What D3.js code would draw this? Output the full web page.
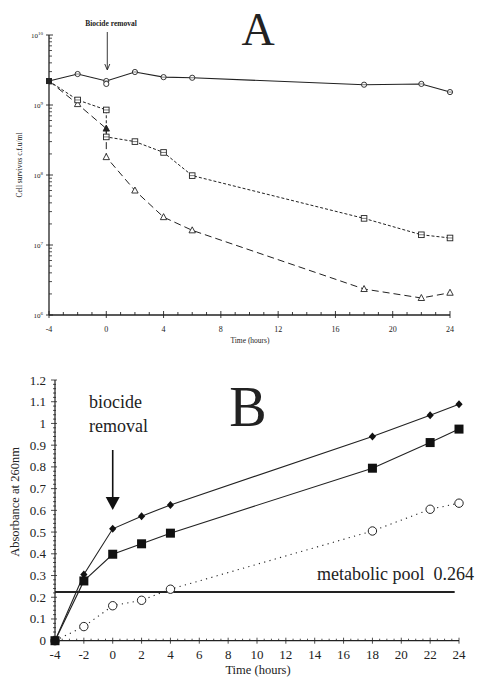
<!DOCTYPE html>
<html><head><meta charset="utf-8">
<script src="https://cdn.jsdelivr.net/npm/d3@7"></script>
<style>body{margin:0;background:#fff}svg{display:block}text{font-family:"Liberation Serif","DejaVu Serif",serif;fill:#222}</style>
</head><body>
<script>
// Panel A data (cell survival, c.f.u/ml)
const timeA = [-4, -2, 0, 2, 4, 6, 18, 22, 24];
const circleA = [2.2e9, 2.77e9, 2.2e9, 2.96e9, 2.5e9, 2.45e9, 1.95e9, 2.0e9, 1.53e9];
const squareTimeA = [-4, -2, 0, 0, 2, 4, 6, 18, 22, 24];
const squareA = [2.2e9, 1.18e9, 8.5e8, 3.5e8, 3.0e8, 2.1e8, 9.8e7, 2.4e7, 1.4e7, 1.26e7];
const triTimeA = [-4, -2, 0, 0, 2, 4, 6, 18, 22, 24];
const triA = [2.2e9, 1.03e9, 4.6e8, 1.8e8, 6.0e7, 2.5e7, 1.62e7, 2.35e6, 1.75e6, 2.08e6];
const yTicksA = [6, 7, 8, 9, 10];
const xTicksA = [-4, 0, 4, 8, 12, 16, 20, 24];

// Panel B data (absorbance at 260nm)
const timeB = [-4, -2, 0, 2, 4, 18, 22, 24];
const diamondB = [0, 0.305, 0.515, 0.573, 0.625, 0.94, 1.038, 1.088];
const squareB = [0, 0.275, 0.398, 0.446, 0.495, 0.794, 0.912, 0.974];
const circleB = [0, 0.065, 0.161, 0.186, 0.237, 0.505, 0.605, 0.633];
const poolLevel = 0.224;
const poolEnd = 23.7;
const yTicksB = [0, 0.1, 0.2, 0.3, 0.4, 0.5, 0.6, 0.7, 0.8, 0.9, 1, 1.1, 1.2];
const xTicksB = [-4, -2, 0, 2, 4, 6, 8, 10, 12, 14, 16, 18, 20, 22, 24];

const W = 478, H = 677;
const svg = d3.select("body").append("svg").attr("width", W).attr("height", H);

// ---------- Panel A ----------
const xA = d3.scaleLinear().domain([-4, 24]).range([49, 450]);
const yA = d3.scaleLog().domain([1e6, 1e10]).range([315, 35]);
const gA = svg.append("g");

gA.append("line").attr("x1", xA(-4)).attr("x2", xA(24)).attr("y1", yA(1e6)).attr("y2", yA(1e6)).attr("stroke", "#222").attr("stroke-width", 1.3);
gA.append("line").attr("x1", xA(-4)).attr("x2", xA(-4)).attr("y1", yA(1e6)).attr("y2", yA(1e10)).attr("stroke", "#222").attr("stroke-width", 1.3);
d3.range(-4, 25, 1).forEach(t => {
  const major = (t + 4) % 4 === 0;
  gA.append("line").attr("x1", xA(t)).attr("x2", xA(t))
    .attr("y1", yA(1e6) + (major ? 3 : 0)).attr("y2", yA(1e6) - (major ? 4 : 3))
    .attr("stroke", "#222").attr("stroke-width", 0.9);
});
xTicksA.forEach(t => {
  gA.append("text").attr("x", xA(t)).attr("y", 332).attr("text-anchor", "middle").attr("font-size", 8).text(t);
});
for (let e = 6; e < 10; e++) {
  for (let m = 2; m < 10; m++) {
    const v = m * Math.pow(10, e);
    gA.append("line").attr("x1", xA(-4)).attr("x2", xA(-4) + 3).attr("y1", yA(v)).attr("y2", yA(v)).attr("stroke", "#222").attr("stroke-width", 0.8);
  }
}
yTicksA.forEach(e => {
  const y = yA(Math.pow(10, e));
  gA.append("line").attr("x1", xA(-4) - 3).attr("x2", xA(-4) + 4).attr("y1", y).attr("y2", y).attr("stroke", "#222").attr("stroke-width", 0.9);
  const t = gA.append("text").attr("x", xA(-4) - 6).attr("y", y + 3).attr("text-anchor", "end").attr("font-size", 7);
  t.append("tspan").text("10");
  t.append("tspan").attr("dy", -3).attr("font-size", 5).text(e);
});
gA.append("text").attr("transform", "translate(22,165) rotate(-90)").attr("text-anchor", "middle").attr("font-size", 7.5).text("Cell survivos c.f.u/ml");
gA.append("text").attr("x", 250).attr("y", 343).attr("text-anchor", "middle").attr("font-size", 7.5).text("Time (hours)");

const lineA = (ts, vs) => d3.line().x((d, i) => xA(ts[i])).y(d => yA(d))(vs);
gA.append("path").attr("d", lineA(triTimeA, triA)).attr("fill", "none").attr("stroke", "#222").attr("stroke-width", 1).attr("stroke-dasharray", "7,4");
gA.append("path").attr("d", lineA(squareTimeA, squareA)).attr("fill", "none").attr("stroke", "#222").attr("stroke-width", 1).attr("stroke-dasharray", "3,2");
gA.append("path").attr("d", lineA(timeA, circleA)).attr("fill", "none").attr("stroke", "#222").attr("stroke-width", 1.1);

triTimeA.forEach((t, i) => {
  if (i === 0) return;
  const x = xA(t), y = yA(triA[i]);
  gA.append("path").attr("d", `M${x},${y - 3.5}L${x + 3.2},${y + 2.5}L${x - 3.2},${y + 2.5}Z`)
    .attr("fill", i === 2 ? "#222" : "#fff").attr("stroke", "#222").attr("stroke-width", 0.9);
});
squareTimeA.forEach((t, i) => {
  if (i === 0) return;
  const x = xA(t), y = yA(squareA[i]);
  gA.append("rect").attr("x", x - 2.8).attr("y", y - 2.8).attr("width", 5.6).attr("height", 5.6).attr("fill", "#fff").attr("stroke", "#222").attr("stroke-width", 0.9);
  gA.append("line").attr("x1", x - 2.8).attr("x2", x + 2.8).attr("y1", y).attr("y2", y).attr("stroke", "#222").attr("stroke-width", 0.6);
});
timeA.forEach((t, i) => {
  const x = xA(t), y = yA(circleA[i]);
  gA.append("circle").attr("cx", x).attr("cy", y).attr("r", 2.6).attr("fill", "#fff").attr("stroke", "#222").attr("stroke-width", 0.9);
  gA.append("line").attr("x1", x - 2.6).attr("x2", x + 2.6).attr("y1", y).attr("y2", y).attr("stroke", "#222").attr("stroke-width", 0.6);
});
gA.append("circle").attr("cx", xA(0)).attr("cy", yA(2.0e9)).attr("r", 2.6).attr("fill", "#fff").attr("stroke", "#222").attr("stroke-width", 0.9);
gA.append("rect").attr("x", xA(-4) - 3).attr("y", yA(2.2e9) - 3).attr("width", 6).attr("height", 6).attr("fill", "#222");

gA.append("text").attr("x", 111).attr("y", 26).attr("text-anchor", "middle").attr("font-size", 7.5).attr("font-weight", "bold").text("Biocide removal");
gA.append("line").attr("x1", xA(0) + 1).attr("x2", xA(0) + 1).attr("y1", 32).attr("y2", 69).attr("stroke", "#222").attr("stroke-width", 0.9);
gA.append("path").attr("d", `M${xA(0) - 1.5},64L${xA(0) + 1},70L${xA(0) + 3.5},64`).attr("fill", "none").attr("stroke", "#222").attr("stroke-width", 0.9);
gA.append("text").attr("x", 258).attr("y", 45).attr("text-anchor", "middle").attr("font-size", 46).text("A");

// ---------- Panel B ----------
const xB = d3.scaleLinear().domain([-4, 24]).range([55, 459]);
const yB = d3.scaleLinear().domain([0, 1.2]).range([640.7, 380]);
const gB = svg.append("g");

gB.append("line").attr("x1", xB(-4)).attr("x2", xB(24)).attr("y1", yB(0)).attr("y2", yB(0)).attr("stroke", "#222").attr("stroke-width", 1.2);
gB.append("line").attr("x1", xB(-4)).attr("x2", xB(-4)).attr("y1", yB(0)).attr("y2", yB(1.2)).attr("stroke", "#222").attr("stroke-width", 1.2);
d3.range(-4, 24.01, 0.5).forEach(t => {
  const major = Math.abs(Math.round(t) - t) < 1e-6 && Math.round(t) % 2 === 0;
  gB.append("line").attr("x1", xB(t)).attr("x2", xB(t)).attr("y1", yB(0) - (major ? 3 : 2)).attr("y2", yB(0) + (major ? 3 : 0))
    .attr("stroke", "#222").attr("stroke-width", 0.8);
});
d3.range(0, 1.2001, 0.02).forEach(v => {
  const major = Math.abs(Math.round(v * 10) - v * 10) < 1e-6;
  gB.append("line").attr("x1", xB(-4) - (major ? 4 : 2)).attr("x2", xB(-4) + (major ? 2 : 1)).attr("y1", yB(v)).attr("y2", yB(v))
    .attr("stroke", "#222").attr("stroke-width", 0.8);
});
xTicksB.forEach(t => {
  gB.append("text").attr("x", xB(t)).attr("y", 659).attr("text-anchor", "middle").attr("font-size", 13).text(t);
});
yTicksB.forEach(v => {
  gB.append("text").attr("x", 46).attr("y", yB(v) + 4.5).attr("text-anchor", "end").attr("font-size", 13).text(+v.toFixed(1));
});
gB.append("text").attr("transform", "translate(19,502) rotate(-90)").attr("text-anchor", "middle").attr("font-size", 12.5).text("Absorbance at 260nm");
gB.append("text").attr("x", 258).attr("y", 674).attr("text-anchor", "middle").attr("font-size", 12.5).text("Time (hours)");

gB.append("line").attr("x1", xB(-4)).attr("x2", xB(poolEnd)).attr("y1", yB(poolLevel)).attr("y2", yB(poolLevel)).attr("stroke", "#222").attr("stroke-width", 2);
gB.append("text").attr("x", 474).attr("y", 580).attr("text-anchor", "end").attr("font-size", 18)
  .style("white-space", "pre").attr("xml:space", "preserve").text("metabolic pool  0.264");

const lineB = vs => d3.line().x((d, i) => xB(timeB[i])).y(d => yB(d))(vs);
gB.append("path").attr("d", lineB(circleB)).attr("fill", "none").attr("stroke", "#222").attr("stroke-width", 1.1).attr("stroke-dasharray", "1.2,4.3");
gB.append("path").attr("d", lineB(squareB)).attr("fill", "none").attr("stroke", "#222").attr("stroke-width", 1.1);
gB.append("path").attr("d", lineB(diamondB)).attr("fill", "none").attr("stroke", "#222").attr("stroke-width", 1.1);

timeB.forEach((t, i) => {
  const x = xB(t), y = yB(circleB[i]);
  gB.append("circle").attr("cx", x).attr("cy", y).attr("r", 4.2).attr("fill", "#fff").attr("stroke", "#222").attr("stroke-width", 1);
});
timeB.forEach((t, i) => {
  const x = xB(t), y = yB(diamondB[i]);
  gB.append("path").attr("d", `M${x},${y - 4}L${x + 3.6},${y}L${x},${y + 4}L${x - 3.6},${y}Z`).attr("fill", "#111");
});
timeB.forEach((t, i) => {
  const x = xB(t), y = yB(squareB[i]);
  gB.append("rect").attr("x", x - 4.5).attr("y", y - 4.5).attr("width", 9).attr("height", 9).attr("fill", "#111");
});

gB.append("text").attr("x", 89).attr("y", 408).attr("font-size", 18).text("biocide");
gB.append("text").attr("x", 89).attr("y", 432).attr("font-size", 18).text("removal");
gB.append("line").attr("x1", xB(0)).attr("x2", xB(0)).attr("y1", 450).attr("y2", 500).attr("stroke", "#111").attr("stroke-width", 1.6);
gB.append("path").attr("d", `M${xB(0) - 7},497L${xB(0) + 7},497L${xB(0)},510Z`).attr("fill", "#111");
gB.append("text").attr("x", 248).attr("y", 426).attr("text-anchor", "middle").attr("font-size", 56).text("B");
</script>
</body></html>
